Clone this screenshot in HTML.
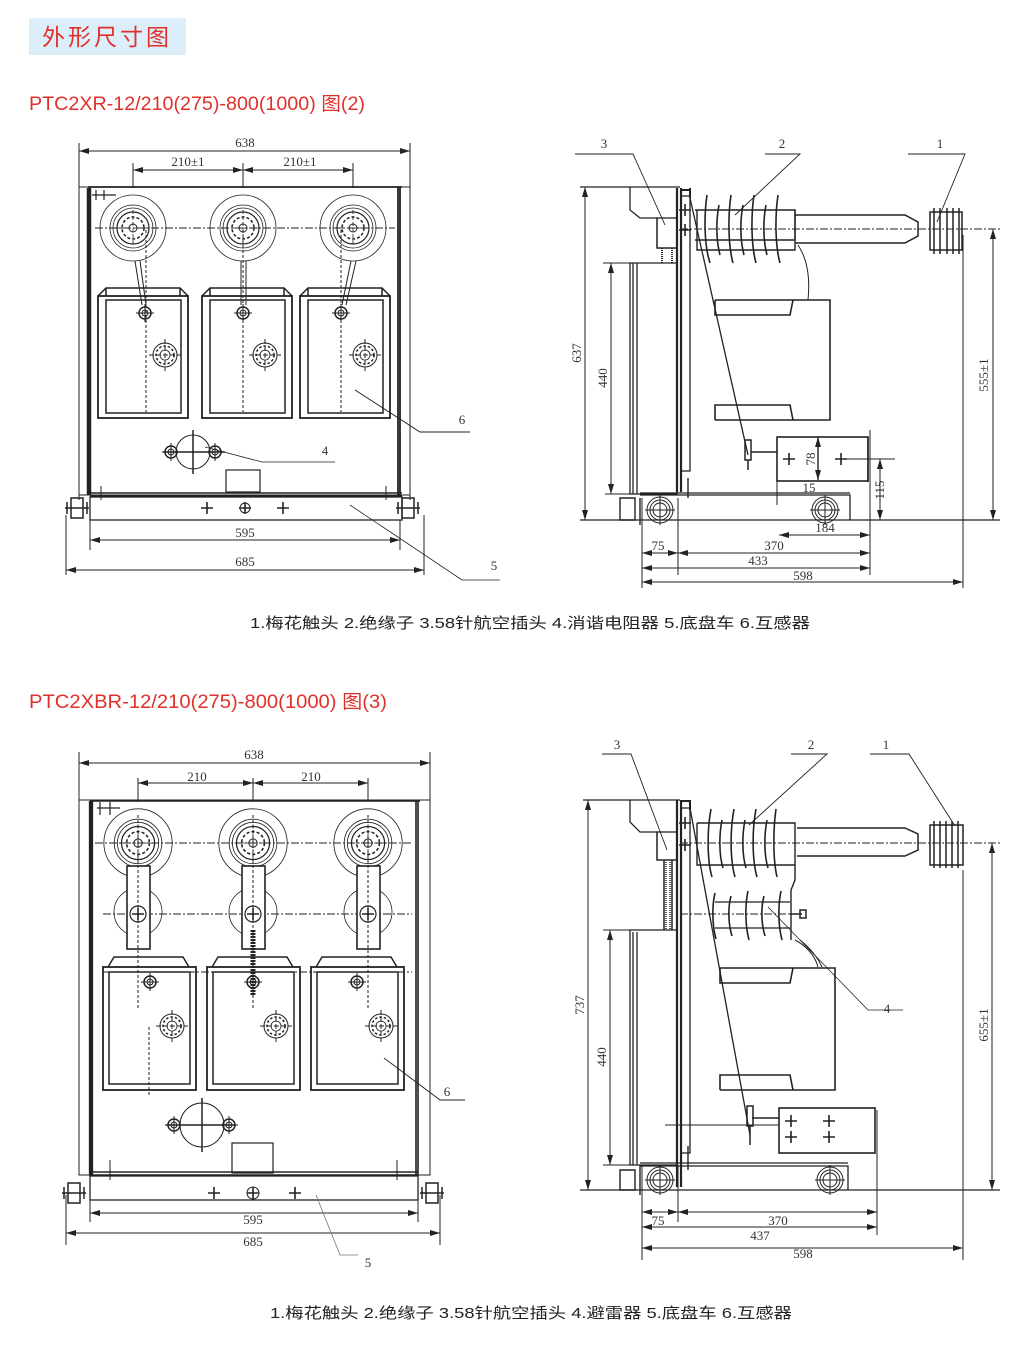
<!DOCTYPE html>
<html><head><meta charset="utf-8"><style>
html,body{margin:0;padding:0;background:#fff;width:1036px;height:1350px;overflow:hidden}
svg{display:block}
.t{font-family:"Liberation Serif","Noto Serif CJK SC",serif;font-size:13px;fill:#333}
.cap{font-family:"Liberation Sans","Noto Sans CJK SC",sans-serif;font-size:15px;fill:#222}
.red{font-family:"Liberation Sans","Noto Sans CJK SC",sans-serif;fill:#e0302a}
</style></head><body>
<svg width="1036" height="1350" viewBox="0 0 1036 1350" xmlns="http://www.w3.org/2000/svg">
<defs>
<marker id="a" viewBox="0 0 10 6" refX="10" refY="3" markerWidth="10" markerHeight="6" orient="auto-start-reverse" markerUnits="userSpaceOnUse"><path d="M0,0L10,3L0,6z" fill="#222"/></marker>
<g id="contact">
<circle r="33" fill="none" stroke="#222" stroke-width="0.8"/>
<circle r="23" fill="none" stroke="#222" stroke-width="0.8"/>
<circle r="20" fill="none" stroke="#222" stroke-width="0.8"/>
<circle r="16" fill="none" stroke="#222" stroke-width="1.2"/>
<circle r="11" fill="none" stroke="#222" stroke-width="1.5" stroke-dasharray="3 2"/>
<circle r="4" fill="none" stroke="#222" stroke-width="1"/>
<path d="M0,-18V18M-18,0H18" stroke="#222" stroke-width="0.8" stroke-dasharray="4 2"/>
</g>
<g id="ring">
<circle r="12" fill="none" stroke="#222" stroke-width="1"/>
<circle r="9" fill="none" stroke="#222" stroke-width="1.5" stroke-dasharray="2.5 2"/>
<circle r="5" fill="none" stroke="#222" stroke-width="0.8"/>
<path d="M0,-16V16M-16,0H16" stroke="#222" stroke-width="1" stroke-dasharray="5 2"/>
</g>
<g id="bolt">
<circle r="6" fill="none" stroke="#222" stroke-width="1.5"/>
<circle r="3" fill="none" stroke="#222" stroke-width="1"/>
<path d="M-9,0H9M0,-9V9" stroke="#222" stroke-width="1"/>
</g>
<g id="wheel">
<circle r="13" fill="none" stroke="#222" stroke-width="1"/>
<circle r="10" fill="none" stroke="#222" stroke-width="1"/>
<circle r="7" fill="none" stroke="#222" stroke-width="1"/>
<path d="M-15,0H15M0,-15V15" stroke="#222" stroke-width="1"/>
</g>
<g id="endbolt">
<rect x="-6" y="-10" width="12" height="20" fill="none" stroke="#222" stroke-width="1.5"/>
<path d="M-10,-6V6M10,-6V6M-12,0H12" stroke="#222" stroke-width="1.5"/>
</g>
<g id="plus"><path d="M-6,0H6M0,-6V6" stroke="#222" stroke-width="1.6"/></g>
</defs>

<!-- header -->
<rect x="29" y="18" width="157" height="37" fill="#dceefa"/>
<text x="42" y="45" class="red" font-size="23" letter-spacing="3">外形尺寸图</text>
<text x="29" y="110" class="red" font-size="19" textLength="336" lengthAdjust="spacingAndGlyphs">PTC2XR-12/210(275)-800(1000) 图(2)</text>
<text x="29" y="708" class="red" font-size="19" textLength="358" lengthAdjust="spacingAndGlyphs">PTC2XBR-12/210(275)-800(1000)  图(3)</text>

<g stroke="#222" fill="none" stroke-width="1">
<!-- ================= TOP LEFT ================= -->
<path d="M79,143V500M410,143V500"/>
<line x1="79" y1="151" x2="410" y2="151" marker-start="url(#a)" marker-end="url(#a)"/>
<path d="M133,163V188M243,163V188M353,163V188"/>
<line x1="133" y1="170" x2="243" y2="170" marker-start="url(#a)" marker-end="url(#a)"/>
<line x1="243" y1="170" x2="353" y2="170" marker-start="url(#a)" marker-end="url(#a)"/>
<rect x="79" y="187" width="331" height="308" stroke-width="1"/>
<path d="M88,188V495M90,188V495" stroke-width="2.5"/>
<path d="M88,187H402M400,187V495M398,187V495" stroke-width="1.8"/>
<path d="M92,195H116M96,190V200M104,190V200" stroke-width="1.2"/>
<path d="M95,228H395" stroke-dasharray="8 2 2 2"/>
<use href="#contact" x="133" y="228"/><use href="#contact" x="243" y="228"/><use href="#contact" x="353" y="228"/>
<path d="M135,261L142,305M140,261L146,305M241,261V305M246,261V305M351,261L342,305M356,261L346,305"/>
<!-- CT boxes -->
<g id="ct1">
<rect x="98" y="296" width="90" height="122" stroke-width="1.8"/>
<rect x="106" y="300" width="75" height="113" stroke-width="1.5"/>
<path d="M98,296L106,288H180L188,296M106,288V296M180,288V296" stroke-width="1.5"/>
</g>
<use href="#ct1" x="104"/><use href="#ct1" x="202"/>
<use href="#bolt" x="145" y="313"/><use href="#bolt" x="243" y="313"/><use href="#bolt" x="341" y="313"/>
<use href="#ring" x="165" y="355"/><use href="#ring" x="265" y="355"/><use href="#ring" x="365" y="355"/>
<path d="M146,230V412M243,230V412M341,230V412" stroke-dasharray="3 2"/>
<!-- item 4 -->
<circle cx="193" cy="452" r="17"/>
<path d="M163,452H225M193,430V474" stroke-width="1.5"/>
<use href="#bolt" x="171" y="452"/><use href="#bolt" x="215" y="452"/>
<rect x="226" y="470" width="34" height="22" stroke-width="1.2"/>
<!-- base -->
<path d="M90,493H402M90,496H402" stroke-width="1.4"/>
<rect x="90" y="497" width="312" height="23" stroke-width="1.3"/>
<path d="M101,486V500M386,486V500"/>
<use href="#plus" x="207" y="508"/><use href="#plus" x="283" y="508"/>
<circle cx="245" cy="508" r="5"/><use href="#plus" x="245" y="508"/>
<use href="#endbolt" x="77" y="508"/><use href="#endbolt" x="408" y="508"/>
<path d="M90,520V550M400,520V550M66,515V575M424,515V575"/>
<line x1="90" y1="540" x2="400" y2="540" marker-start="url(#a)" marker-end="url(#a)"/>
<line x1="66" y1="570" x2="424" y2="570" marker-start="url(#a)" marker-end="url(#a)"/>
<!-- leaders -->
<path d="M355,390L420,432H470" stroke-width="0.9"/>
<path d="M205,447L262,462H335" stroke-width="0.8"/>
<path d="M350,505L462,580H500" stroke-width="0.8"/>

<!-- ================= TOP RIGHT ================= -->
<path d="M575,154H633L665,225M765,154H800L735,215M908,154H965L937,222" stroke-width="0.9"/>
<path d="M580,187H680M580,520H1000" stroke-width="1.2"/>
<line x1="585" y1="187" x2="585" y2="520" marker-start="url(#a)" marker-end="url(#a)"/>
<line x1="611" y1="263" x2="611" y2="494" marker-start="url(#a)" marker-end="url(#a)"/>
<path d="M605,494H640M603,263H635"/>
<path d="M630,263H677V494H630zM633,263V494M637,263V494" stroke-width="1.3"/>
<path d="M630,187V210L640,218H657V248H677" stroke-width="1.3"/>
<rect x="657" y="218" width="20" height="30" stroke-width="1.3"/>
<path d="M662,248V263M672,248V263" stroke-width="2" stroke-dasharray="1 1"/>
<path d="M677,188V492M681,188V492" stroke-width="2.2"/>
<rect x="681" y="196" width="9" height="275" stroke-width="1.3"/>
<path d="M682,190H690M690,188V198" stroke-width="2"/>
<use href="#plus" x="685" y="210"/><use href="#plus" x="685" y="230"/>
<path d="M690,198L748,455" stroke-width="1.3"/>
<!-- insulator -->
<path d="M695,210H795V240H695" stroke-width="1.4"/>
<path d="M695,240V262H795V240" stroke-width="1.4" opacity="0"/>
<g stroke-width="1.6">
<path d="M707,195C704,215 704,245 710,263M719,205C716,220 716,240 720,255M731,195C728,215 728,245 733,263M743,205C740,220 740,240 744,255M754,195C751,215 751,245 756,263M766,205C763,220 763,240 767,255M778,195C775,215 775,245 780,263"/>
</g>
<path d="M697,210V250H795V210" stroke-width="1.4"/>
<path d="M795,215H905L918,222V236L905,243H795" stroke-width="1.5"/>
<path d="M680,229H1000" stroke-dasharray="8 2 2 2"/>
<path d="M930,212h32v38h-32zM934,208V254M940,208V254M947,208V254M953,208V254M959,208V254" stroke-width="1.5"/>
<path d="M798,245C808,260 810,280 808,300" stroke-width="1"/>
<!-- CT box -->
<path d="M715,300H830V420H715M715,300V315H790L793,300M715,420V405H790L793,420" stroke-width="1.6"/>
<!-- lower box -->
<path d="M745,440h6v20h-6zM748,460V470M751,452H777" stroke-width="1.5"/>
<rect x="777" y="437" width="91" height="44" stroke-width="1.6"/>
<path d="M818,437V480M868,437V482" stroke-width="1.4"/>
<use href="#plus" x="789" y="459"/><use href="#plus" x="841" y="459"/>
<path d="M842,459H895M880,459V520" />
<line x1="880" y1="459" x2="880" y2="520" marker-start="url(#a)" marker-end="url(#a)"/>
<line x1="818" y1="437" x2="818" y2="480" marker-start="url(#a)" marker-end="url(#a)"/>
<path d="M777,481V505M777,481H868"/>
<path d="M640,493H850M640,495H850V520" stroke-width="1.3"/>
<path d="M688,478V498" stroke-width="1.4"/>
<use href="#wheel" x="660" y="510"/><use href="#wheel" x="825" y="510"/>
<path d="M620,498h15v22h-15zM640,498V525" stroke-width="1.4"/>
<line x1="993" y1="229" x2="993" y2="520" marker-start="url(#a)" marker-end="url(#a)"/>
<path d="M963,235V588M870,430V575M642,498V588M678,498V575"/>
<line x1="642" y1="553" x2="678" y2="553" marker-start="url(#a)" marker-end="url(#a)"/>
<line x1="678" y1="553" x2="870" y2="553" marker-start="url(#a)" marker-end="url(#a)"/>
<line x1="642" y1="568" x2="870" y2="568" marker-start="url(#a)" marker-end="url(#a)"/>
<line x1="642" y1="582" x2="963" y2="582" marker-start="url(#a)" marker-end="url(#a)"/>
<line x1="779" y1="535" x2="870" y2="535" marker-start="url(#a)" marker-end="url(#a)"/>

<!-- ================= BOTTOM LEFT ================= -->
<path d="M79,752V1175M430,752V1175"/>
<line x1="79" y1="763" x2="430" y2="763" marker-start="url(#a)" marker-end="url(#a)"/>
<path d="M138,778V802M253,778V802M368,778V802"/>
<line x1="138" y1="783" x2="253" y2="783" marker-start="url(#a)" marker-end="url(#a)"/>
<line x1="253" y1="783" x2="368" y2="783" marker-start="url(#a)" marker-end="url(#a)"/>
<rect x="79" y="800" width="351" height="375"/>
<path d="M90,801V1175M92,801V1175" stroke-width="2.3"/>
<path d="M90,801H420M418,801V1175M416,801V1175" stroke-width="1.6"/>
<path d="M97,808H120M100,802V815M110,802V815" stroke-width="1.2"/>
<path d="M95,843H412M103,914H412M103,972H412" stroke-dasharray="8 2 2 2"/>
<g id="ph">
<circle cx="138" cy="912" r="24" stroke-width="0.8"/>
<use href="#contact" x="138" y="843" transform="translate(-4.8 -29.5) scale(1.035)"/>
<rect x="127" y="866" width="23" height="83" fill="#fff" stroke-width="1.6"/>
<circle cx="138" cy="914" r="8" stroke-width="1.2"/>
<use href="#plus" x="138" y="914"/>
<path d="M138,815V1010" stroke-dasharray="3 2"/>
</g>
<use href="#ph" x="115"/><use href="#ph" x="230"/>
<path d="M253,930V995" stroke-width="5" stroke-dasharray="2 1"/>
<g id="ct2">
<rect x="103" y="967" width="93" height="123" stroke-width="1.8"/>
<rect x="109" y="972" width="81" height="112" stroke-width="1.5"/>
<path d="M108,967L114,957H183L189,967" stroke-width="1.5"/>
</g>
<use href="#ct2" x="104"/><use href="#ct2" x="208"/>
<use href="#bolt" x="150" y="982"/><use href="#bolt" x="253" y="982"/><use href="#bolt" x="357" y="982"/>
<use href="#ring" x="172" y="1026"/><use href="#ring" x="276" y="1026"/><use href="#ring" x="381" y="1026"/>
<path d="M149,1027V1095" stroke-dasharray="3 2"/>
<circle cx="202" cy="1125" r="22"/>
<path d="M166,1125H235M202,1098V1152" stroke-width="1.5"/>
<use href="#bolt" x="174" y="1125"/><use href="#bolt" x="229" y="1125"/>
<rect x="232" y="1143" width="41" height="30" stroke-width="1.2"/>
<path d="M90,1172H418M90,1175H418" stroke-width="1.4"/>
<rect x="90" y="1176" width="328" height="24" stroke-width="1.3"/>
<use href="#plus" x="214" y="1193"/><use href="#plus" x="295" y="1193"/>
<circle cx="253" cy="1193" r="6"/><use href="#plus" x="253" y="1193"/>
<path d="M110,1160V1180M397,1160V1180"/>
<use href="#endbolt" x="74" y="1193"/><use href="#endbolt" x="432" y="1193"/>
<path d="M90,1200V1222M418,1200V1222M66,1195V1245M440,1195V1245"/>
<line x1="90" y1="1213" x2="418" y2="1213" marker-start="url(#a)" marker-end="url(#a)"/>
<line x1="66" y1="1233" x2="440" y2="1233" marker-start="url(#a)" marker-end="url(#a)"/>
<path d="M384,1058L440,1100H465" stroke-width="0.9"/>
<path d="M316,1195L340,1255H358" stroke-width="0.8" stroke="#777"/>

<!-- ================= BOTTOM RIGHT ================= -->
<path d="M602,754H631L667,850M791,754H827L749,825M870,754H909L955,826" stroke-width="0.9"/>
<path d="M583,800H680M580,1190H1000" stroke-width="1.2"/>
<line x1="588" y1="800" x2="588" y2="1190" marker-start="url(#a)" marker-end="url(#a)"/>
<line x1="610" y1="930" x2="610" y2="1165" marker-start="url(#a)" marker-end="url(#a)"/>
<path d="M603,1165H640M603,930H635"/>
<path d="M630,930H677V1165H630zM633,932V1165M637,932V1165" stroke-width="1.3"/>
<path d="M630,800V822L640,832H657V860H677" stroke-width="1.3"/>
<rect x="657" y="832" width="20" height="28" stroke-width="1.3"/>
<path d="M664,860V930M672,860V930" stroke-width="1.5"/>
<path d="M666,862V930M670,862V930" stroke-width="1.5" stroke-dasharray="1 1"/>
<path d="M677,800V1187M681,800V1187" stroke-width="2.2"/>
<rect x="681" y="808" width="9" height="345" stroke-width="1.3"/>
<path d="M682,801H690M690,800V810" stroke-width="2"/>
<use href="#plus" x="685" y="823"/><use href="#plus" x="685" y="845"/>
<path d="M690,808L750,1135" stroke-width="1.3"/>
<g stroke-width="1.6">
<path d="M711,809C707,830 707,860 712,877M722,820C719,835 719,855 723,868M734,809C730,830 730,860 735,877M745,820C742,835 742,855 746,868M756,809C752,830 752,860 757,877M767,820C764,835 764,855 768,868M776,809C773,830 773,860 777,877"/>
<path d="M715,893C712,905 712,925 716,939M731,896C728,907 728,923 732,936M748,891C745,905 745,925 749,940M764,896C761,907 761,923 765,936M781,891C778,905 778,925 782,940"/>
</g>
<path d="M697,823V865H795V823H697M795,865V880L791,890V940" stroke-width="1.4"/>
<path d="M715,902H790M715,928H790" stroke-width="1.3"/>
<path d="M790,914h12M800,910h6v8h-6z" stroke-width="1.5"/>
<path d="M797,828H905L918,834V850L905,856H797" stroke-width="1.5"/>
<path d="M680,843H1000M680,914H790" stroke-dasharray="8 2 2 2"/>
<path d="M930,825h33v40h-33zM934,821V868M940,821V868M946,821V868M952,821V868M958,821V868" stroke-width="1.5"/>
<path d="M795,940C805,945 815,955 818,967M800,940C810,948 818,958 822,967"/>
<path d="M768,907L868,1010H903" stroke-width="0.8"/>
<path d="M720,968H835V1090H720M720,968V983H790L793,968M720,1090V1075H790L793,1090" stroke-width="1.6"/>
<path d="M747,1106h6v20h-6zM752,1118H779M750,1126V1145" stroke-width="1.5"/>
<rect x="779" y="1108" width="96" height="45" stroke-width="1.6"/>
<use href="#plus" x="791" y="1121"/><use href="#plus" x="829" y="1121"/><use href="#plus" x="791" y="1137"/><use href="#plus" x="829" y="1137"/>
<path d="M665,1125H779"/>
<path d="M640,1163H848M640,1166H848V1190" stroke-width="1.3"/>
<path d="M688,1146V1170" stroke-width="1.4"/>
<use href="#wheel" x="660" y="1180"/><use href="#wheel" x="830" y="1180"/>
<path d="M620,1170h15v20h-15zM640,1165V1195" stroke-width="1.4"/>
<line x1="992" y1="843" x2="992" y2="1190" marker-start="url(#a)" marker-end="url(#a)"/>
<path d="M963,870V1260M877,1110V1235M642,1165V1260M678,1165V1222"/>
<line x1="642" y1="1212" x2="678" y2="1212" marker-start="url(#a)" marker-end="url(#a)"/>
<line x1="678" y1="1212" x2="877" y2="1212" marker-start="url(#a)" marker-end="url(#a)"/>
<line x1="642" y1="1227" x2="877" y2="1227" marker-start="url(#a)" marker-end="url(#a)"/>
<line x1="642" y1="1248" x2="963" y2="1248" marker-start="url(#a)" marker-end="url(#a)"/>
</g>

<!-- dimension texts -->
<g class="t" text-anchor="middle">
<text x="245" y="147">638</text>
<text x="188" y="166">210±1</text><text x="300" y="166">210±1</text>
<text x="245" y="537">595</text><text x="245" y="566">685</text>
<text x="462" y="424">6</text><text x="325" y="455">4</text><text x="494" y="570">5</text>
<text x="604" y="148">3</text><text x="782" y="148">2</text><text x="940" y="148">1</text>
<text x="658" y="550">75</text><text x="774" y="550">370</text><text x="758" y="565">433</text><text x="803" y="580">598</text>
<text x="825" y="532">184</text><text x="809" y="492">15</text>
<text transform="translate(581,353) rotate(-90)">637</text>
<text transform="translate(607,378) rotate(-90)">440</text>
<text transform="translate(988,375) rotate(-90)">555±1</text>
<text transform="translate(815,459) rotate(-90)">78</text>
<text transform="translate(884,490) rotate(-90)">115</text>

<text x="254" y="759">638</text>
<text x="197" y="781">210</text><text x="311" y="781">210</text>
<text x="253" y="1224">595</text><text x="253" y="1246">685</text>
<text x="447" y="1096">6</text><text x="368" y="1267">5</text>
<text x="617" y="749">3</text><text x="811" y="749">2</text><text x="886" y="749">1</text><text x="887" y="1013">4</text>
<text x="658" y="1225">75</text><text x="778" y="1225">370</text><text x="760" y="1240">437</text><text x="803" y="1258">598</text>
<text transform="translate(584,1005) rotate(-90)">737</text>
<text transform="translate(606,1057) rotate(-90)">440</text>
<text transform="translate(988,1025) rotate(-90)">655±1</text>
</g>

<text x="250" y="628" class="cap" textLength="560" lengthAdjust="spacingAndGlyphs">1.梅花触头 2.绝缘子 3.58针航空插头 4.消谐电阻器 5.底盘车 6.互感器</text>
<text x="270" y="1318" class="cap" textLength="522" lengthAdjust="spacingAndGlyphs">1.梅花触头 2.绝缘子 3.58针航空插头 4.避雷器 5.底盘车 6.互感器</text>
</svg>
</body></html>
